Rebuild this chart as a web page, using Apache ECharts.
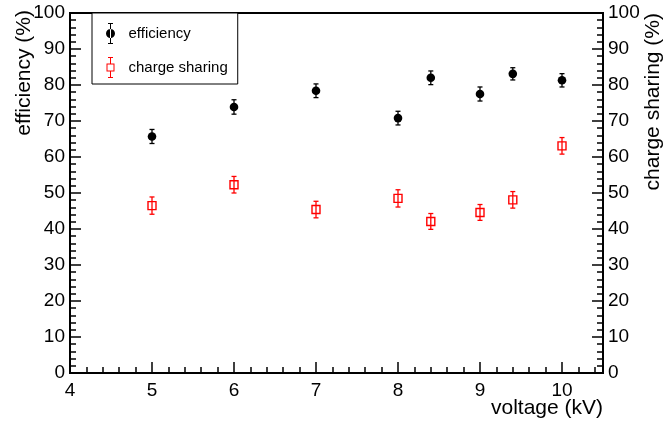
<!DOCTYPE html>
<html>
<head>
<meta charset="utf-8">
<script src="https://cdn.jsdelivr.net/npm/echarts@6/dist/echarts.min.js"></script>
<style>html,body{margin:0;padding:0;background:#fff;}#c{width:667px;height:421px;}</style>
</head>
<body>
<div id="c"></div>
<script>
const voltage = [5, 6, 7, 8, 8.4, 9, 9.4, 10];
const efficiency = [65.7, 73.9, 78.4, 70.8, 82.0, 77.5, 83.1, 81.3];
const efficiencyErr = [1.95, 2.0, 1.9, 1.9, 1.9, 1.95, 1.7, 1.85];
const chargeSharing = [46.5, 52.3, 45.4, 48.5, 42.1, 44.6, 48.1, 63.1];
const chargeSharingErr = [2.4, 2.3, 2.3, 2.4, 2.2, 2.2, 2.3, 2.3];
const xTicks = [4, 5, 6, 7, 8, 9, 10];
const yTicks = [0, 10, 20, 30, 40, 50, 60, 70, 80, 90, 100];

const FONT = "'Liberation Sans', Arial, Helvetica, sans-serif";
const chart = echarts.init(document.getElementById('c'), null, {renderer: 'canvas'});

function makeRender(kind) {
  return function (params, api) {
    const x = api.value(0), y = api.value(1), e = api.value(2);
    const c = api.coord([x, y]);
    const t = api.coord([x, y + e]);
    const b = api.coord([x, y - e]);
    const color = kind === 'circle' ? '#000000' : '#ff0000';
    const lw = 1.3, cap = 2.5;
    const children = [
      {type: 'line', shape: {x1: c[0], y1: t[1], x2: c[0], y2: b[1]}, style: {stroke: color, lineWidth: lw}},
      {type: 'line', shape: {x1: c[0] - cap, y1: t[1], x2: c[0] + cap, y2: t[1]}, style: {stroke: color, lineWidth: lw}},
      {type: 'line', shape: {x1: c[0] - cap, y1: b[1], x2: c[0] + cap, y2: b[1]}, style: {stroke: color, lineWidth: lw}}
    ];
    if (kind === 'circle') {
      children.push({type: 'circle', shape: {cx: c[0], cy: c[1], r: 4.3}, style: {fill: '#000000'}});
    } else {
      children.push({type: 'rect', shape: {x: c[0] - 4, y: c[1] - 4, width: 8, height: 8}, style: {fill: 'none', stroke: '#ff0000', lineWidth: 1.4}});
    }
    return {type: 'group', children: children};
  };
}

const effIcon = 'path://M2.5 0H7.5V1H5.5V20H7.5V21H2.5V20H4.5V1H2.5Z M0.5 10.5A4.5 4.5 0 1 0 9.5 10.5A4.5 4.5 0 1 0 0.5 10.5Z';
const csIcon = 'path://M2.5 0H7.5V1H5.5V6.5H4.5V1H2.5Z M4.5 14.5H5.5V20H7.5V21H2.5V20H4.5Z M1 6.5H9V14.5H1Z M2 7.5V13.5H8V7.5Z';

const yAxisBase = {
  type: 'value', min: 0, max: 100, interval: 10,
  axisLine: {show: true, lineStyle: {color: '#000', width: 2}},
  axisTick: {show: true, inside: true, length: 11, lineStyle: {color: '#000', width: 1.5}},
  minorTick: {show: true, splitNumber: 5, length: 6, lineStyle: {color: '#000', width: 1.5}},
  splitLine: {show: false},
  minorSplitLine: {show: false},
  axisLabel: {color: '#000', fontSize: 19, fontFamily: FONT, margin: 5,
    formatter: v => yTicks.includes(v) ? String(v) : ''}
};

chart.setOption({
  animation: false,
  backgroundColor: '#ffffff',
  grid: {left: 70, right: 64, top: 13, bottom: 48, show: true, borderColor: '#000', borderWidth: 2, backgroundColor: 'transparent'},
  xAxis: [
    {
      type: 'value', min: 4, max: 10.5, interval: 1, position: 'bottom',
      axisLine: {show: true, onZero: false, lineStyle: {color: '#000', width: 2}},
      axisTick: {show: true, inside: true, length: 11, lineStyle: {color: '#000', width: 1.5}},
      splitLine: {show: false},
      axisLabel: {color: '#000', fontSize: 19, fontFamily: FONT, margin: 8,
        formatter: v => xTicks.includes(v) ? String(v) : '', showMaxLabel: false}
    },
    {
      type: 'value', min: 4, max: 10.5, interval: 0.2, position: 'bottom', gridIndex: 0,
      axisLine: {show: false, onZero: false},
      axisTick: {show: true, inside: true, length: 6, lineStyle: {color: '#000', width: 1.5}},
      splitLine: {show: false},
      axisLabel: {show: false}
    }
  ],
  yAxis: [
    Object.assign({}, yAxisBase, {position: 'left'}),
    Object.assign({}, yAxisBase, {position: 'right'})
  ],
  legend: {
    orient: 'vertical', left: 92, top: 13,
    borderColor: '#000', borderWidth: 1, backgroundColor: '#fff',
    padding: [10, 10, 6, 14], itemGap: 13, itemWidth: 26, itemHeight: 21,
    textStyle: {color: '#000', fontSize: 15, fontFamily: FONT},
    selectedMode: false,
    data: [
      {name: 'efficiency', icon: effIcon, itemStyle: {color: '#000', borderWidth: 0}},
      {name: 'charge sharing', icon: csIcon, itemStyle: {color: '#ff0000', borderWidth: 0}}
    ]
  },
  series: [
    {
      name: 'efficiency', type: 'custom', xAxisIndex: 0, yAxisIndex: 0,
      itemStyle: {color: '#000'},
      renderItem: makeRender('circle'),
      encode: {x: 0, y: 1},
      data: voltage.map((v, i) => [v, efficiency[i], efficiencyErr[i]]),
      z: 3
    },
    {
      name: 'charge sharing', type: 'custom', xAxisIndex: 0, yAxisIndex: 1,
      itemStyle: {color: '#ff0000'},
      renderItem: makeRender('rect'),
      encode: {x: 0, y: 1},
      data: voltage.map((v, i) => [v, chargeSharing[i], chargeSharingErr[i]]),
      z: 3
    }
  ],
  graphic: [
    {type: 'text', x: 24, y: 10, rotation: Math.PI / 2,
      style: {text: 'efficiency (%)', fill: '#000', font: '21px ' + FONT, textAlign: 'right', textVerticalAlign: 'middle'}},
    {type: 'text', x: 653, y: 13, rotation: Math.PI / 2,
      style: {text: 'charge sharing (%)', fill: '#000', font: '21px ' + FONT, textAlign: 'right', textVerticalAlign: 'middle'}},
    {type: 'text', x: 603, y: 419,
      style: {text: 'voltage (kV)', fill: '#000', font: '21px ' + FONT, textAlign: 'right', textVerticalAlign: 'bottom'}}
  ]
});
</script>
</body>
</html>
